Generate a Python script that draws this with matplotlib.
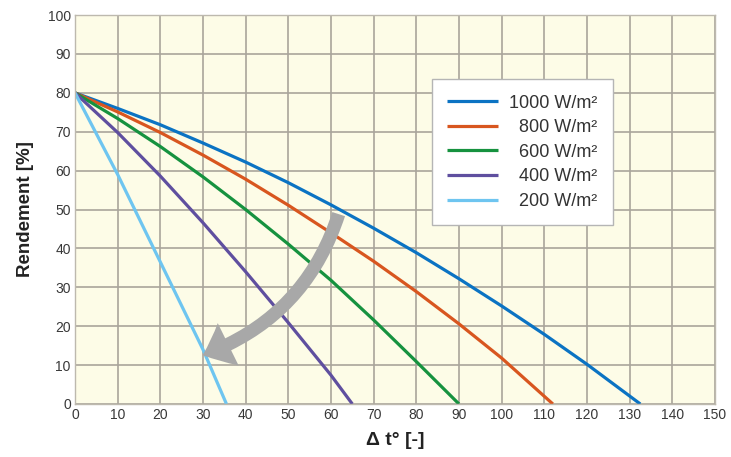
import matplotlib
matplotlib.use("Agg")
import matplotlib.pyplot as plt
from matplotlib.patches import FancyArrowPatch

plt.rcParams['font.family'] = ['Liberation Sans', 'DejaVu Sans']

# Data
x_1000 = [0, 10, 20, 30, 40, 50, 60, 70, 80, 90, 100, 110, 120, 132.5]
y_1000 = [80, 76.0, 71.8, 67.1, 62.2, 56.9, 51.2, 45.2, 38.9, 32.2, 25.2, 17.9, 10.2, 0]

x_800 = [0, 10, 20, 30, 40, 50, 60, 70, 80, 90, 100, 112]
y_800 = [80, 75.1, 69.8, 64.0, 57.8, 51.1, 44.0, 36.7, 28.9, 20.6, 11.8, 0]

x_600 = [0, 10, 20, 30, 40, 50, 60, 70, 80, 90]
y_600 = [80, 73.4, 66.2, 58.4, 50.0, 41.1, 31.8, 21.6, 10.9, 0]

x_400 = [0, 10, 20, 30, 40, 50, 60, 65]
y_400 = [80, 69.8, 58.6, 46.6, 34.0, 20.9, 7.4, 0]

x_200 = [0, 10, 20, 30, 35.5]
y_200 = [80, 59.0, 36.5, 14.0, 0]

labels = ["1000 W/m²", "  800 W/m²", "  600 W/m²", "  400 W/m²", "  200 W/m²"]
colors = ["#0b73c3", "#d8561f", "#16923f", "#5f4f9f", "#6ec5f0"]

x_ticks = list(range(0, 151, 10))
y_ticks = list(range(0, 101, 10))

# Arrow (data coordinates)
arrow_start = (62, 49.5)
arrow_end = (29.3, 12.3)

fig = plt.figure(figsize=(7.31, 4.57), dpi=100)
ax = fig.add_axes([0.1026, 0.116, 0.8755, 0.851])
ax.set_facecolor("#fdfce7")

series = [(x_1000, y_1000), (x_800, y_800), (x_600, y_600), (x_400, y_400), (x_200, y_200)]
for (xs, ys), lab, c in zip(series, labels, colors):
    ax.plot(xs, ys, color=c, lw=2.3, label=lab, solid_capstyle='butt')

ax.set_xlim(0, 150)
ax.set_ylim(0, 100)
ax.set_xticks(x_ticks)
ax.set_yticks(y_ticks)
ax.grid(True, color="#a9a59b", lw=1.2)
ax.set_axisbelow(True)
ax.tick_params(length=0, labelsize=10, colors="#383838", pad=3)
for sp in ax.spines.values():
    sp.set_color("#bdb9ae")
    sp.set_linewidth(1.0)

ax.set_xlabel("Δ t° [-]", fontsize=14, fontweight='bold', color="#222222", labelpad=7)
ax.set_ylabel("Rendement [%]", fontsize=13.5, fontweight='bold', color="#222222", labelpad=10)

arrow = FancyArrowPatch(arrow_start, arrow_end,
                        connectionstyle="arc3,rad=-0.25",
                        arrowstyle="simple,head_length=0.5,head_width=0.85,tail_width=0.24",
                        mutation_scale=40, color="#a8a8a8", lw=0, zorder=5)
ax.add_patch(arrow)

leg = ax.legend(loc='upper left', bbox_to_anchor=(0.558, 0.835), fontsize=13,
                frameon=True, fancybox=False, handlelength=2.8, handletextpad=0.6,
                labelspacing=0.42, borderpad=0.85, borderaxespad=0)
leg.get_frame().set_edgecolor("#b5b5b5")
leg.get_frame().set_linewidth(1.0)
leg.get_frame().set_facecolor("white")
leg.get_frame().set_alpha(1)
leg.set_zorder(6)
for t in leg.get_texts():
    t.set_color("#333333")

fig.savefig("out.png", dpi=100, facecolor="white")
